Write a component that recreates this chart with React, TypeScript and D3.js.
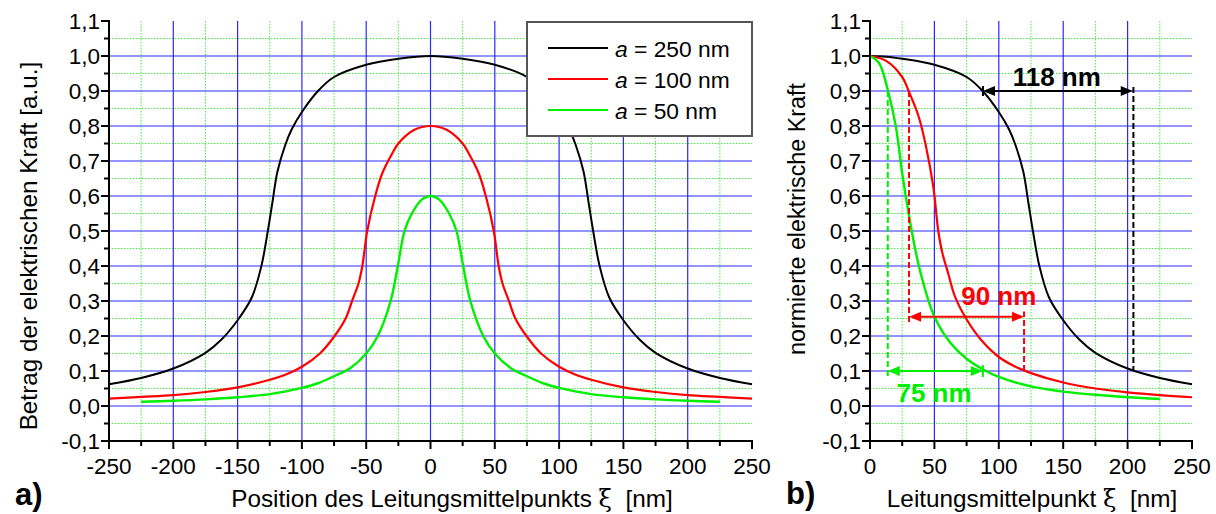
import React from "react";
import * as d3 from "d3";

// ---------- data ----------
const blackLeftX = [-250,-225,-200,-175,-162.5,-150,-139,-131.5,-126.5,-123,-119,-113,-108,-100,-87.5,-75,-50,-25,0,25,50,75,87.5,100,108,113,119,123,126.5,131.5,139,150,162.5,175,200,225,250];
const blackLeftY = [0.062,0.08,0.107,0.152,0.19,0.245,0.31,0.4,0.5,0.58,0.67,0.745,0.79,0.84,0.9,0.94,0.975,0.992,1.0,0.992,0.975,0.94,0.9,0.84,0.79,0.745,0.67,0.58,0.5,0.4,0.31,0.245,0.19,0.152,0.107,0.08,0.062];

const redLeftX = [-250,-225,-200,-175,-150,-125,-112.5,-100,-86,-74.6,-66,-61,-56,-53,-49.2,-43,-37.5,-30,-25,-12.5,0,12.5,25,30,37.5,43,49.2,53,56,61,66,74.6,86,100,112.5,125,150,175,200,225,250];
const redLeftY = [0.021,0.026,0.031,0.04,0.053,0.075,0.09,0.112,0.15,0.2,0.25,0.3,0.35,0.4,0.5,0.6,0.665,0.72,0.75,0.789,0.8,0.789,0.75,0.72,0.665,0.6,0.5,0.4,0.35,0.3,0.25,0.2,0.15,0.112,0.09,0.075,0.053,0.04,0.031,0.026,0.021];

const greenLeftX = [-225,-200,-175,-150,-125,-100,-87.5,-75,-62.5,-50,-41,-31,-25.4,-20.2,-14.5,-7,0,7,14.5,20.2,25.4,31,41,50,62.5,75,87.5,100,125,150,175,200,225];
const greenLeftY = [0.012,0.015,0.019,0.025,0.034,0.052,0.065,0.085,0.108,0.15,0.2,0.3,0.4,0.5,0.55,0.589,0.6,0.589,0.55,0.5,0.4,0.3,0.2,0.15,0.108,0.085,0.065,0.052,0.034,0.025,0.019,0.015,0.012];

const blackNormX = [0,12.5,25,50,75,87.5,100,108,113,119,123,126.5,131.5,139,150,162.5,175,200,225,250];
const blackNormY = [1,0.998,0.992,0.975,0.94,0.9,0.84,0.79,0.745,0.67,0.58,0.5,0.4,0.31,0.245,0.19,0.152,0.107,0.08,0.062];

const redNormX = [0,12.5,25,30,37.5,43,49.2,53,56,61,66,74.6,86,100,112.5,125,150,175,200,225,250];
const redNormY = [1,0.986,0.94,0.9,0.83,0.75,0.625,0.5,0.44,0.375,0.3125,0.25,0.19,0.14,0.113,0.094,0.067,0.05,0.039,0.031,0.025];

const greenNormX = [0,7,14,20,25,30,35,40,50,62.5,75,87.5,100,125,150,175,200,225];
const greenNormY = [1,0.98,0.9,0.8,0.665,0.55,0.45,0.37,0.255,0.18,0.135,0.105,0.083,0.056,0.041,0.032,0.025,0.02];

const seriesNames = ["250", "100", "50"];
const seriesColors = ["#000000", "#ff0000", "#00ee00"];

const yTicks = [-0.1,0,0.1,0.2,0.3,0.4,0.5,0.6,0.7,0.8,0.9,1.0,1.1];
const yTickLabels = ["-0,1","0,0","0,1","0,2","0,3","0,4","0,5","0,6","0,7","0,8","0,9","1,0","1,1"];
const yMinor = [-0.05,0.05,0.15,0.25,0.35,0.45,0.55,0.65,0.75,0.85,0.95,1.05];
const xTicksLeft = [-250,-200,-150,-100,-50,0,50,100,150,200,250];
const xMinorLeft = [-225,-175,-125,-75,-25,25,75,125,175,225];
const xTicksRight = [0,50,100,150,200,250];
const xMinorRight = [25,75,125,175,225];

// annotations (right panel), in data units
const blackArrow = { x1: 87.7, x2: 204, y: 0.9, dashX: 204.5, dashY1: 0.9, dashY2: 0.102, label: "118 nm", lx: 145, ly: 0.913 };
const redArrow = { x1: 30.3, x2: 119.6, y: 0.255, dashL: [0.9, 0.24], dashR: [0.1, 0.27], label: "90 nm", lx: 100, ly: 0.29 };
const greenArrow = { x1: 13.8, x2: 87.6, y: 0.1, dashL: [0.9, 0.083], label: "75 nm", lx: 49.7, ly: 0.012 };

const FONT = "'Liberation Sans', Arial, sans-serif";
const SYM = "'DejaVu Serif', 'Liberation Serif', serif";
const TICK_FS = 22.5;
const TITLE_FS = 24.3;

const yScale = d3.scaleLinear().domain([-0.1, 1.1]).range([441, 21]);
const xLeft = d3.scaleLinear().domain([-250, 250]).range([109, 752]);
const xRight = d3.scaleLinear().domain([0, 250]).range([870, 1192]);

function pathOf(xs: number[], ys: number[], xs_: d3.ScaleLinear<number, number>) {
  const line = d3.line<number>().x((_, i) => xs_(xs[i])).y((d) => yScale(d)).curve(d3.curveCatmullRom.alpha(0.5));
  return line(ys) || "";
}

function Panel({ x, minor, gridMajor }: { x: d3.ScaleLinear<number, number>; minor: number[]; gridMajor: number[] }) {
  const [x0, x1] = x.range();
  const yTop = yScale(1.1);
  const yBot = yScale(-0.1);
  return (
    <g>
      {minor.map((v) => (
        <line key={"gvx" + v} x1={x(v)} x2={x(v)} y1={yTop} y2={yBot} stroke="#44ee44" strokeWidth={1} strokeDasharray="1.5,1.5" />
      ))}
      {yMinor.map((v) => (
        <line key={"gvy" + v} x1={x0} x2={x1} y1={yScale(v)} y2={yScale(v)} stroke="#44ee44" strokeWidth={1} strokeDasharray="1.5,1.5" />
      ))}
      {gridMajor.map((v) => (
        <line key={"gmx" + v} x1={x(v)} x2={x(v)} y1={yTop} y2={yBot} stroke="#2a2aff" strokeWidth={1.2} />
      ))}
      {yTicks.filter((v) => v >= 0 && v <= 1.0001).map((v) => (
        <line key={"gmy" + v} x1={x0} x2={x1} y1={yScale(v)} y2={yScale(v)} stroke="#2a2aff" strokeWidth={1.2} />
      ))}
    </g>
  );
}

function Axes({ x, ticks, minor, labels }: { x: d3.ScaleLinear<number, number>; ticks: number[]; minor: number[]; labels: string[] }) {
  const [x0, x1] = x.range();
  const yTop = yScale(1.1);
  const yBot = yScale(-0.1);
  return (
    <g fontFamily={FONT}>
      <line x1={x0} x2={x0} y1={yTop - 1} y2={yBot + 1} stroke="#000" strokeWidth={2} />
      <line x1={x0 - 1} x2={x1 + 1} y1={yBot} y2={yBot} stroke="#000" strokeWidth={2} />
      {yTicks.map((v, i) => (
        <g key={"yt" + v}>
          <line x1={x0 - 8} x2={x0} y1={yScale(v)} y2={yScale(v)} stroke="#000" strokeWidth={2} />
          <text x={x0 - 9} y={yScale(v) + 8} textAnchor="end" fontSize={TICK_FS} fill="#000">{yTickLabels[i]}</text>
        </g>
      ))}
      {yMinor.map((v) => (
        <line key={"ym" + v} x1={x0 - 5} x2={x0} y1={yScale(v)} y2={yScale(v)} stroke="#000" strokeWidth={2} />
      ))}
      {ticks.map((v, i) => (
        <g key={"xt" + v}>
          <line x1={x(v)} x2={x(v)} y1={yBot} y2={yBot + 8} stroke="#000" strokeWidth={2} />
          <text x={x(v)} y={yBot + 33} textAnchor="middle" fontSize={TICK_FS} fill="#000">{labels[i]}</text>
        </g>
      ))}
      {minor.map((v) => (
        <line key={"xm" + v} x1={x(v)} x2={x(v)} y1={yBot} y2={yBot + 5} stroke="#000" strokeWidth={2} />
      ))}
    </g>
  );
}

function Arrow({ x1, x2, y, color }: { x1: number; x2: number; y: number; color: string }) {
  const L = 12, H = 5;
  return (
    <g>
      <line x1={x1 + 4} x2={x2 - 4} y1={y} y2={y} stroke={color} strokeWidth={2} />
      <polygon points={`${x1},${y} ${x1 + L},${y - H} ${x1 + L},${y + H}`} fill={color} />
      <polygon points={`${x2},${y} ${x2 - L},${y - H} ${x2 - L},${y + H}`} fill={color} />
    </g>
  );
}

export default function App() {
  const legendY = [48, 79, 110];
  return (
    <svg width={1216} height={514} style={{ position: "absolute", left: 0, top: 0, background: "#fff" }}>
      <rect x={0} y={0} width={1216} height={514} fill="#fff" />
      {/* Left panel */}
      <Panel x={xLeft} minor={xMinorLeft} gridMajor={[-200,-150,-100,-50,0,50,100,150,200]} />
      <path d={pathOf(blackLeftX, blackLeftY, xLeft)} fill="none" stroke={seriesColors[0]} strokeWidth={2} />
      <path d={pathOf(redLeftX, redLeftY, xLeft)} fill="none" stroke={seriesColors[1]} strokeWidth={2.2} />
      <path d={pathOf(greenLeftX, greenLeftY, xLeft)} fill="none" stroke={seriesColors[2]} strokeWidth={2.4} />
      <Axes x={xLeft} ticks={xTicksLeft} minor={xMinorLeft} labels={xTicksLeft.map(String)} />

      {/* Legend */}
      <g fontFamily={FONT}>
        <rect x={527} y={22} width={225} height={114} fill="#fff" stroke="#555" strokeWidth={2} />
        {seriesNames.map((n, i) => (
          <g key={n}>
            <line x1={548} x2={608} y1={legendY[i]} y2={legendY[i]} stroke={seriesColors[i]} strokeWidth={2.2} />
            <text x={615} y={legendY[i] + 8.5} fontSize={22.8} fill="#000">
              <tspan fontStyle="italic">a</tspan> = {n} nm
            </text>
          </g>
        ))}
      </g>

      {/* Right panel */}
      <Panel x={xRight} minor={xMinorRight} gridMajor={[50,100,150,200]} />
      <path d={pathOf(blackNormX, blackNormY, xRight)} fill="none" stroke={seriesColors[0]} strokeWidth={2} />
      <path d={pathOf(redNormX, redNormY, xRight)} fill="none" stroke={seriesColors[1]} strokeWidth={2.2} />
      <path d={pathOf(greenNormX, greenNormY, xRight)} fill="none" stroke={seriesColors[2]} strokeWidth={2.4} />

      {/* annotations */}
      <g>
        <line x1={xRight(blackArrow.dashX)} x2={xRight(blackArrow.dashX)} y1={yScale(blackArrow.dashY1) - 4} y2={yScale(blackArrow.dashY2)} stroke="#000" strokeWidth={2} strokeDasharray="6,3" />
        <line x1={xRight(blackArrow.x1)} x2={xRight(blackArrow.x1)} y1={yScale(blackArrow.y) - 5} y2={yScale(blackArrow.y) + 5} stroke="#000" strokeWidth={2} />
        <Arrow x1={xRight(blackArrow.x1)} x2={xRight(blackArrow.x2)} y={yScale(blackArrow.y)} color="#000" />
        <text x={xRight(blackArrow.lx)} y={yScale(blackArrow.ly)} textAnchor="middle" fontFamily={FONT} fontWeight="bold" fontSize={26} fill="#000">{blackArrow.label}</text>

        <line x1={xRight(redArrow.x1)} x2={xRight(redArrow.x1)} y1={yScale(redArrow.dashL[0])} y2={yScale(redArrow.dashL[1])} stroke="#ff0000" strokeWidth={2} strokeDasharray="6,3" />
        <line x1={xRight(redArrow.x2)} x2={xRight(redArrow.x2)} y1={yScale(redArrow.dashR[0])} y2={yScale(redArrow.dashR[1])} stroke="#ff0000" strokeWidth={2} strokeDasharray="6,3" />
        <Arrow x1={xRight(redArrow.x1)} x2={xRight(redArrow.x2)} y={yScale(redArrow.y)} color="#ff0000" />
        <text x={xRight(redArrow.lx)} y={yScale(redArrow.ly)} textAnchor="middle" fontFamily={FONT} fontWeight="bold" fontSize={26} fill="#ff0000">{redArrow.label}</text>

        <line x1={xRight(greenArrow.x1)} x2={xRight(greenArrow.x1)} y1={yScale(greenArrow.dashL[0])} y2={yScale(greenArrow.dashL[1])} stroke="#00ee00" strokeWidth={2} strokeDasharray="6,3" />
        <line x1={xRight(greenArrow.x2)} x2={xRight(greenArrow.x2)} y1={yScale(greenArrow.y) - 6} y2={yScale(greenArrow.y) + 6} stroke="#00ee00" strokeWidth={2} />
        <Arrow x1={xRight(greenArrow.x1)} x2={xRight(greenArrow.x2)} y={yScale(greenArrow.y)} color="#00ee00" />
        <text x={xRight(greenArrow.lx)} y={yScale(greenArrow.ly)} textAnchor="middle" fontFamily={FONT} fontWeight="bold" fontSize={26} fill="#00ee00">{greenArrow.label}</text>
      </g>

      <Axes x={xRight} ticks={xTicksRight} minor={xMinorRight} labels={xTicksRight.map(String)} />

      {/* axis titles */}
      <g fontFamily={FONT} fill="#000">
        <text transform="translate(37,246) rotate(-90)" textAnchor="middle" fontSize={TITLE_FS}>Betrag der elektrischen Kraft [a.u.]</text>
        <text transform="translate(805,219) rotate(-90)" textAnchor="middle" fontSize={TITLE_FS - 1}>normierte elektrische Kraft</text>
        <text x={452} y={507} textAnchor="middle" fontSize={TITLE_FS}>
          Position des Leitungsmittelpunkts <tspan fontFamily={SYM}>ξ</tspan>{"\u00a0 "}[nm]
        </text>
        <text x={1032} y={507} textAnchor="middle" fontSize={TITLE_FS}>
          Leitungsmittelpunkt <tspan fontFamily={SYM}>ξ</tspan>{"\u00a0 "}[nm]
        </text>
        <text x={15} y={505} fontSize={31} fontWeight="bold">a)</text>
        <text x={786} y={504} fontSize={31} fontWeight="bold">b)</text>
      </g>
    </svg>
  );
}
